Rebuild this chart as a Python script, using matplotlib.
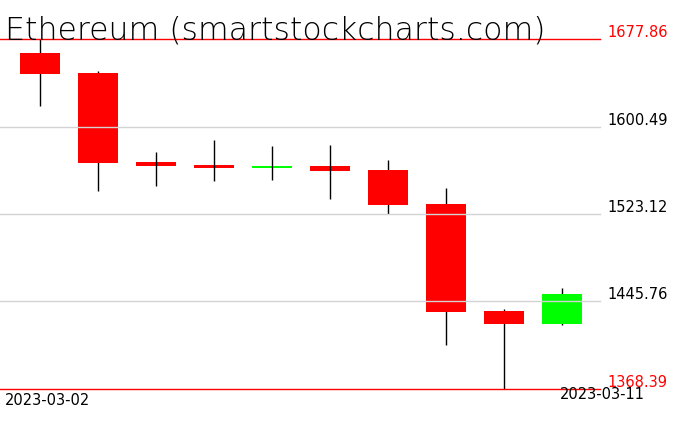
import numpy as np
import matplotlib
matplotlib.use('Agg')
import matplotlib.pyplot as plt

# Daily ETH candles
dates = ['2023-03-02', '2023-03-03', '2023-03-04', '2023-03-05', '2023-03-06',
         '2023-03-07', '2023-03-08', '2023-03-09', '2023-03-10', '2023-03-11']
opens = [1665.5, 1648.1, 1569.1, 1566.7, 1563.8, 1565.8, 1562.0, 1532.0, 1437.4, 1426.1]
highs = [1677.86, 1649.6, 1578.0, 1588.6, 1583.5, 1584.1, 1570.9, 1545.9, 1439.1, 1458.0]
lows = [1618.9, 1543.7, 1548.2, 1552.6, 1553.5, 1536.1, 1523.4, 1407.6, 1368.39, 1424.7]
closes = [1647.2, 1568.5, 1565.8, 1564.1, 1565.6, 1561.2, 1531.4, 1436.7, 1426.1, 1452.4]

# price levels shown on the right
levels = [1677.86, 1600.49, 1523.12, 1445.76, 1368.39]
level_labels = ['1677.86', '1600.49', '1523.12', '1445.76', '1368.39']

title = 'Ethereum (smartstockcharts.com)'

W, H = 676, 431
fig = plt.figure(figsize=(W / 100, H / 100), dpi=100)
ax = fig.add_axes([0, 41 / H, 600 / W, 350 / H])
ax.set_axis_off()

x = np.arange(len(dates))
o = np.array(opens)
c = np.array(closes)
hi = np.array(highs)
lo = np.array(lows)

up = c >= o
colors = np.where(up, '#00ff00', '#ff0000')
bottoms = np.minimum(o, c)
heights = np.maximum(np.abs(c - o), 1.5)

# thin bodies get the wick drawn over them
thin = np.abs(c - o) < 8
ax.vlines(x[~thin], lo[~thin], hi[~thin], color='black', linewidth=1.0, zorder=2)
ax.bar(x, heights, bottom=bottoms, width=0.69, color=colors, linewidth=0, zorder=3)
ax.vlines(x[thin], lo[thin], hi[thin], color='black', linewidth=1.0, zorder=4)

# horizontal levels
for i, lv in enumerate(levels):
    if i == 0 or i == len(levels) - 1:
        col = '#ff0000'
        txt_col = '#ff0000'
    else:
        col = '#d3d3d3'
        txt_col = 'black'
    ax.axhline(lv, color=col, linewidth=1.0, zorder=5, clip_on=False)
    ax.text(1.0 + 7 / 600, lv, level_labels[i], transform=ax.get_yaxis_transform(),
            ha='left', va='bottom', color=txt_col, fontsize=10.5, clip_on=False)

ax.set_xlim(-0.69, 9.655)
ax.set_ylim(levels[-1], levels[0])

fig.text(5 / W, 1 - 40 / H, title, ha='left', va='baseline',
         fontsize=22.7, fontweight='light', color='black')

fig.text(5 / W, 1 - 408 / H, dates[0], ha='left', va='bottom', fontsize=10.5)
fig.text(645 / W, 1 - 402 / H, dates[-1], ha='right', va='bottom', fontsize=10.5)

fig.savefig('out.png', dpi=100, facecolor='white')
